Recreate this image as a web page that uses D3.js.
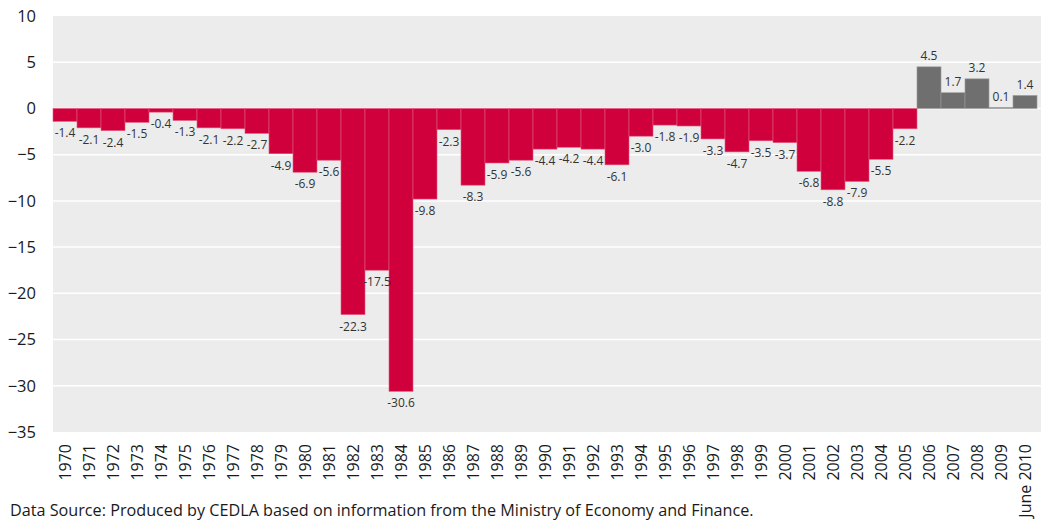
<!DOCTYPE html>
<html>
<head>
<meta charset="utf-8">
<script src="https://cdn.jsdelivr.net/npm/d3@7"></script>
<style>
  body { margin: 0; background: #fff; }
  text { font-family: "Open Sans", "Noto Sans", sans-serif; }
</style>
</head>
<body>
<div id="chart"></div>
<script>
const years = ["1970","1971","1972","1973","1974","1975","1976","1977","1978","1979",
  "1980","1981","1982","1983","1984","1985","1986","1987","1988","1989",
  "1990","1991","1992","1993","1994","1995","1996","1997","1998","1999",
  "2000","2001","2002","2003","2004","2005","2006","2007","2008","2009","June 2010"]
const balance = [-1.4,-2.1,-2.4,-1.5,-0.4,-1.3,-2.1,-2.2,-2.7,-4.9,
  -6.9,-5.6,-22.3,-17.5,-30.6,-9.8,-2.3,-8.3,-5.9,-5.6,
  -4.4,-4.2,-4.4,-6.1,-3.0,-1.8,-1.9,-3.3,-4.7,-3.5,
  -3.7,-6.8,-8.8,-7.9,-5.5,-2.2,4.5,1.7,3.2,0.1,1.4]
const yTicks = [10, 5, 0, -5, -10, -15, -20, -25, -30, -35]

const W = 1045, H = 522
const MARGIN = {TOP: 16, LEFT: 53, RIGHT: 4, BOTTOM: 90}
const plotW = W - MARGIN.LEFT - MARGIN.RIGHT
const plotH = H - MARGIN.TOP - MARGIN.BOTTOM

const svg = d3.select("#chart").append("svg")
    .attr("width", W)
    .attr("height", H)

const g = svg.append("g")
    .attr("transform", `translate(${MARGIN.LEFT}, ${MARGIN.TOP})`)

const x = d3.scaleBand()
    .domain(years)
    .range([0, 984])
    .padding(0)

const y = d3.scaleLinear()
    .domain([-35, 10])
    .range([plotH, 0])

// grey plot background
g.append("rect")
    .attr("width", plotW)
    .attr("height", plotH)
    .attr("fill", "#ebeceb")

// white gridlines
g.selectAll(".grid")
    .data(yTicks.filter(d => d !== 10 && d !== -35))
    .enter().append("line")
    .attr("x1", 0)
    .attr("x2", plotW)
    .attr("y1", d => y(d))
    .attr("y2", d => y(d))
    .attr("stroke", "#fff")
    .attr("stroke-width", 1.5)

// y axis labels
const yAxis = d3.axisLeft(y).tickValues(yTicks).tickSize(0).tickPadding(0)
const yg = g.append("g").attr("transform", "translate(-17,0)").call(yAxis)
yg.select(".domain").remove()
yg.selectAll("text")
    .attr("font-size", 16.5)
    .attr("fill", "#1a1a1a")
    .style("font-family", "'Open Sans', sans-serif")

// bars
g.selectAll(".bar")
    .data(balance)
    .enter().append("rect")
    .attr("x", (d, i) => x(years[i]))
    .attr("width", x.bandwidth())
    .attr("y", d => y(Math.max(0, d)))
    .attr("height", d => Math.abs(y(d) - y(0)))
    .attr("fill", d => d < 0 ? "#d0003c" : "#6f6f6f")
    .attr("stroke", d => d < 0 ? "#e45a7f" : "#9a9a9a")
    .attr("stroke-width", 0.6)

// value labels
g.selectAll(".val")
    .data(balance)
    .enter().append("text")
    .attr("x", (d, i) => x(years[i]) + x.bandwidth() / 2)
    .attr("y", d => d < 0 ? y(d) + 16 : y(d) - 7)
    .attr("text-anchor", "middle")
    .attr("font-size", 12)
    .attr("fill", "#333")
    .text(d => d.toFixed(1))

// x axis labels, rotated
const xAxis = d3.axisBottom(x).tickSize(0).tickPadding(0)
const xg = g.append("g").attr("transform", `translate(0, ${plotH})`).call(xAxis)
xg.select(".domain").remove()
xg.selectAll("text")
    .attr("transform", "rotate(-90)")
    .attr("x", -12)
    .attr("y", 0)
    .attr("dy", "0.35em")
    .attr("text-anchor", "end")
    .attr("font-size", 16)
    .attr("fill", "#1a1a1a")
    .style("font-family", "'Open Sans', sans-serif")

svg.append("text")
    .attr("x", 10)
    .attr("y", 516)
    .attr("font-size", 16.2)
    .attr("fill", "#1a1a1a")
    .text("Data Source: Produced by CEDLA based on information from the Ministry of Economy and Finance.")
</script>
</body>
</html>
